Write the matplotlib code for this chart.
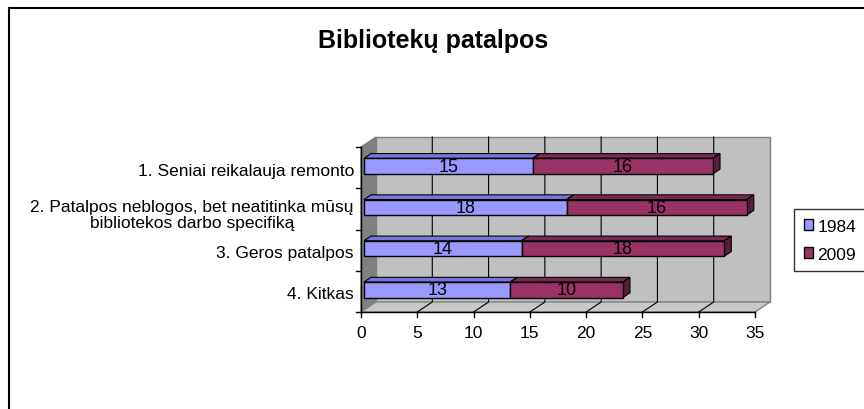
import matplotlib
matplotlib.use("Agg")
import matplotlib.pyplot as plt
from matplotlib.patches import Polygon, Patch
from matplotlib.lines import Line2D
from matplotlib.transforms import IdentityTransform, ScaledTranslation
import numpy as np

plt.rcParams['font.family'] = ['Liberation Sans', 'DejaVu Sans']

# duomenys
categories = ["1. Seniai reikalauja remonto",
              "2. Patalpos neblogos, bet neatitinka mūsų\nbibliotekos darbo specifiką",
              "3. Geros patalpos",
              "4. Kitkas"]
years = ["1984", "2009"]
v1984 = [15, 18, 14, 13]
v2009 = [16, 16, 18, 10]
x_ticks = [0, 5, 10, 15, 20, 25, 30, 35]

col_1984 = "#9999FF"
col_2009 = "#993366"
top_1984 = "#7777DD"
top_2009 = "#7A2952"
side_1984 = "#5555AA"
side_2009 = "#5A1E3C"

FS = 12.5

W, H = 864, 410
fig = plt.figure(figsize=(W / 100, H / 100), dpi=100)
ax = fig.add_axes([361 / W, (H - 313) / H, (755 - 361) / W, (313 - 148) / H])
ax.set_xlim(0, 35)
ax.set_ylim(0, 4)
ax.axis("off")
ax.set_zorder(10)
fig.canvas.draw()

DX, DY = 15, 10  # 3D gylis (pikseliais)
ident = IdentityTransform()


def pt(x, y, d=0.0):
    px, py = ax.transData.transform((x, y))
    return (px + d * DX, py + d * DY)


def poly(pts, fc, ec="black", lw=0.8, z=1):
    p = Polygon(pts, closed=True, facecolor=fc, edgecolor=ec, linewidth=lw,
                transform=ident, zorder=z, clip_on=False)
    fig.add_artist(p)


# sienos ir grindys
poly([pt(0, 0, 1), pt(35, 0, 1), pt(35, 4, 1), pt(0, 4, 1)], "#C0C0C0", "#808080", 1.0)
poly([pt(0, 0), pt(0, 4), pt(0, 4, 1), pt(0, 0, 1)], "#808080", "#808080", 1.0)
poly([pt(0, 0), pt(35, 0), pt(35, 0, 1), pt(0, 0, 1)], "#C8C8C8", "#808080", 1.0)

for t in x_ticks[1:-1]:
    a, b, c = pt(t, 0), pt(t, 0, 1), pt(t, 4, 1)
    fig.add_artist(Line2D([a[0], b[0], c[0]], [a[1], b[1], c[1]], color="black",
                          lw=0.8, transform=ident, zorder=2))

# asys
fig.add_artist(Line2D([pt(0, 0)[0], pt(35, 0)[0]], [pt(0, 0)[1]] * 2,
                      color="black", lw=1.0, transform=ident, zorder=3))
fig.add_artist(Line2D([pt(0, 0)[0]] * 2, [pt(0, 0)[1], pt(0, 4)[1]],
                      color="black", lw=1.0, transform=ident, zorder=3))
for t in x_ticks:
    p = pt(t, 0)
    fig.add_artist(Line2D([p[0], p[0]], [p[1], p[1] - 5], color="black", lw=1.0,
                          transform=ident, zorder=3))
    fig.text(p[0] / W, (p[1] - 20) / H, str(t), ha="center", va="center", fontsize=FS)
for k in range(5):
    p = pt(0, k)
    fig.add_artist(Line2D([p[0] - 5, p[0]], [p[1], p[1]], color="black", lw=1.0,
                          transform=ident, zorder=3))

# stulpeliu padetys
n = len(categories)
ypos = [n - 1 - i + 0.49 for i in range(n)]

# kategoriju pavadinimai
for lab, yc in zip(categories, ypos):
    p = pt(0, yc)
    dy = 5 if "\n" in lab else 2
    fig.text((p[0] - 7) / W, (p[1] - dy) / H, lab, ha="right", va="center",
             multialignment="center", fontsize=FS, linespacing=1.05)

# stulpeliai
bd = 0.2   # stulpelio padetis gylyje
bz = 0.47  # stulpelio storis gylyje
bh = 0.376
shift = ax.transData + ScaledTranslation(bd * DX / 100, bd * DY / 100, fig.dpi_scale_trans)
left = np.zeros(n)
for vals, fc, tc, sc in [(v1984, col_1984, top_1984, side_1984),
                         (v2009, col_2009, top_2009, side_2009)]:
    for y, l, v in zip(ypos, left, vals):
        y0, y1 = y - bh / 2, y + bh / 2
        poly([pt(l, y1, bd), pt(l + v, y1, bd), pt(l + v, y1, bd + bz), pt(l, y1, bd + bz)],
             tc, z=4)
        poly([pt(l + v, y0, bd), pt(l + v, y1, bd), pt(l + v, y1, bd + bz), pt(l + v, y0, bd + bz)],
             sc, z=4)
    bars = ax.barh(ypos, vals, height=bh, left=left, color=fc, edgecolor="black",
                   linewidth=1.0, zorder=5, clip_on=False)
    for b in bars:
        b.set_transform(shift)
    for y, l, v in zip(ypos, left, vals):
        ax.text(l + v / 2, y, str(v), ha="center", va="center", fontsize=13,
                color="black", transform=shift, zorder=6)
    left = left + np.array(vals)

# legenda
handles = [Patch(facecolor=col_1984, edgecolor="black", label=years[0]),
           Patch(facecolor=col_2009, edgecolor="black", label=years[1])]
leg = fig.legend(handles=handles, loc="upper left",
                 bbox_to_anchor=(794 / W, 1 - 210 / H), fontsize=FS,
                 frameon=True, fancybox=False, borderaxespad=0, borderpad=0.55,
                 handlelength=0.55, handleheight=0.55, handletextpad=0.25,
                 labelspacing=0.75)
leg.get_frame().set_edgecolor("black")
leg.get_frame().set_linewidth(1.0)

# pavadinimas
fig.text(433 / W, 1 - 41 / H, "Bibliotekų patalpos", ha="center", va="center",
         fontsize=18, fontweight="bold")

# remelis
fig.add_artist(Line2D([9 / W, 9 / W], [0, 1 - 9 / H], color="black", lw=1.5,
                      transform=fig.transFigure))
fig.add_artist(Line2D([9 / W, 1], [1 - 9 / H, 1 - 9 / H], color="black", lw=1.5,
                      transform=fig.transFigure))

fig.savefig("out.png", dpi=100)
